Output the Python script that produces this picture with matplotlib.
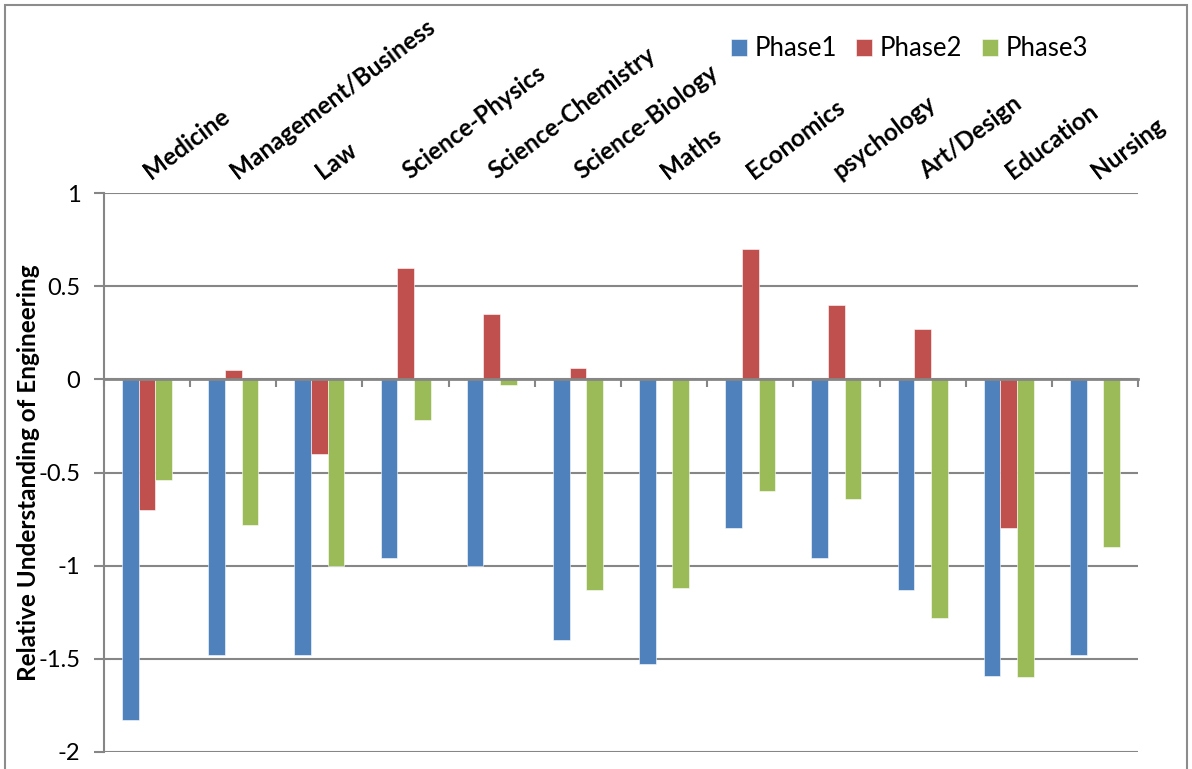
import matplotlib
matplotlib.use("Agg")
import matplotlib.pyplot as plt
import matplotlib.transforms as mtransforms
import numpy as np
from matplotlib.patches import Rectangle

categories = ["Medicine", "Management/Business", "Law", "Science-Physics",
              "Science-Chemistry", "Science-Biology", "Maths", "Economics",
              "psychology", "Art/Design", "Education", "Nursing"]
phase1 = [-1.83, -1.48, -1.48, -0.96, -1.00, -1.40, -1.53, -0.80, -0.96, -1.13, -1.59, -1.48]
phase2 = [-0.70, 0.05, -0.40, 0.60, 0.35, 0.06, 0.0, 0.70, 0.40, 0.27, -0.80, 0.0]
phase3 = [-0.54, -0.78, -1.00, -0.22, -0.03, -1.13, -1.12, -0.60, -0.64, -1.28, -1.60, -0.90]
series_names = ["Phase1", "Phase2", "Phase3"]
colors = ["#4F81BD", "#C0504D", "#9BBB59"]
yticks = [1, 0.5, 0, -0.5, -1, -1.5, -2]
ytick_labels = ["1", "0.5", "0", "-0.5", "-1", "-1.5", "-2"]
ylabel = "Relative Understanding of Engineering"

W, H = 1192, 769
fig = plt.figure(figsize=(W / 100, H / 100), dpi=100)
fig.patches.append(Rectangle((5 / W, -0.05), (W - 10) / W, 1.05 - 5 / H,
                             transform=fig.transFigure, fill=False,
                             edgecolor="#8C8C8C", linewidth=1.5))

ax = fig.add_axes([104 / W, 1 - 752 / H, (1138 - 104) / W, (752 - 193) / H])
fam = ["Lato", "DejaVu Sans"]

n = len(categories)
x = np.arange(n)
bw = 0.194
for i, (vals, c, name) in enumerate(zip([phase1, phase2, phase3], colors, series_names)):
    ax.bar(x + (i - 1) * bw, vals, width=bw, color=c, label=name, zorder=2,
           edgecolor="white", linewidth=0.4)

ax.set_xlim(-0.5, n - 0.5)
ax.set_ylim(-2, 1)
ax.set_yticks(yticks)
ax.set_yticklabels(ytick_labels, fontsize=17, family=fam)
ax.yaxis.grid(True, color="#868686", linewidth=1.5, zorder=0)
ax.set_axisbelow(True)
ax.tick_params(axis="y", length=7, width=1.5, color="#868686", pad=10)

for s in ["top", "right"]:
    ax.spines[s].set_visible(False)
ax.spines["left"].set_color("#868686")
ax.spines["left"].set_linewidth(1.5)
ax.spines["bottom"].set_position(("data", 0))
ax.spines["bottom"].set_color("#868686")
ax.spines["bottom"].set_linewidth(2)
ax.spines["bottom"].set_zorder(3)
ax.set_xticks(np.arange(n + 1) - 0.5)
ax.set_xticklabels([])
ax.tick_params(axis="x", length=6, width=1.5, color="#868686", direction="out")

# category labels above the plot, rotated
offset = mtransforms.ScaledTranslation(4 / 100, 13 / 100, fig.dpi_scale_trans)
lab_tr = ax.get_xaxis_transform() + offset
for xi, cat in zip(x, categories):
    ax.text(xi, 1.0, cat, transform=lab_tr, rotation=37, ha="left", va="baseline",
            rotation_mode="anchor", fontsize=17.5, fontweight="bold", family=fam,
            clip_on=False)

ax.set_ylabel(ylabel, fontsize=17.5, fontweight="bold", family=fam)
ax.yaxis.set_label_coords((40 - 104) / (1138 - 104), 0.5)

leg = ax.legend(loc="center left", bbox_to_anchor=(731 / W, 1 - 49 / H),
                bbox_transform=fig.transFigure, ncol=3, frameon=False,
                borderaxespad=0, borderpad=0,
                prop={"family": fam, "size": 18.5}, handlelength=0.62, handleheight=0.62,
                handletextpad=0.3, columnspacing=0.75)

fig.savefig("out.png", dpi=100)
